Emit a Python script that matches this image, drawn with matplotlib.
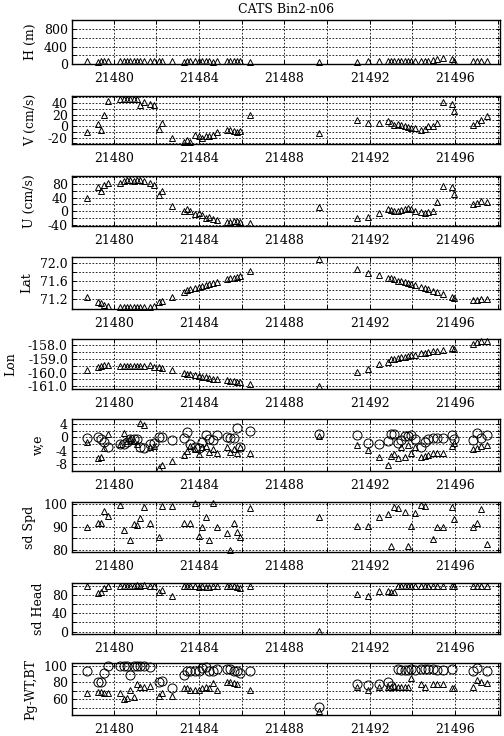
import numpy as np
import matplotlib
matplotlib.use('Agg')
import matplotlib.pyplot as plt
from matplotlib.ticker import MultipleLocator, FormatStrFormatter

plt.rcParams['font.family'] = 'DejaVu Serif'
plt.rcParams['font.size'] = 9

nan = np.nan

# sample times (days)
day = [21478.75, 21479.27, 21479.39, 21479.53, 21479.73, 21480.31, 21480.47, 21480.63,
       21480.78, 21480.94, 21481.09, 21481.25, 21481.41, 21481.72, 21481.88, 21482.11,
       21482.27, 21482.75, 21483.28, 21483.44, 21483.59, 21483.80, 21484.00, 21484.16,
       21484.31, 21484.47, 21484.66, 21484.84, 21485.31, 21485.47, 21485.63, 21485.78,
       21485.91, 21486.41, 21489.61, 21491.42, 21491.92, 21492.42, 21492.83, 21492.98,
       21493.14, 21493.33, 21493.48, 21493.64, 21493.80, 21493.95, 21494.11, 21494.42,
       21494.58, 21494.73, 21494.94, 21495.13, 21495.44, 21495.83, 21495.94, 21496.84,
       21497.03, 21497.19, 21497.47]

depth = [60, 50, 70, 80, 70, 70, 80, 70, 60, 70, 60, 70, 80, 80, 60, 70, 60, 70, 50, 60,
         60, 60, 70, 60, 70, 60, 50, 60, 60, 70, 60, 70, 60, 40, 40, 50, 70, 60, 60, 70,
         60, 60, 70, 60, 70, 80, 70, 60, 70, 80, 100, 120, 130, 110, 70, 60, 60, 70, 60]

v = [-11, 3, -6, 20, 44, 46, 47, 46, 47, 46, 46, 37, 42, 38, 36, -5, 5, -20, -28, -24,
     -28, -15, -18, -21, -18, -18, -15, -10, -6, -7, -9, -11, -9, 19, -12, 10, 6, 6, 9, 5,
     2, 3, 1, 0, -2, -4, -3, -6, -5, 0, 0, 6, 41, 38, 26, 2, 5, 10, 17]

u = [38, 70, 60, 77, 82, 82, 87, 90, 90, 87, 90, 92, 87, 82, 78, 48, 60, 16, 1, 6,
     2, -9, -6, -11, -20, -16, -23, -25, -32, -30, -28, -27, -30, -33, 12, -20, -18, -6, 6, 4,
     0, 2, 4, 6, 11, 6, 2, -2, -6, -2, 2, 28, 74, 72, 51, 21, 25, 30, 28]

lat = [71.25, 71.15, 71.12, 71.08, 71.05, 71.04, 71.04, 71.04, 71.04, 71.04, 71.04, 71.04,
       71.04, 71.04, 71.06, 71.14, 71.16, 71.26, 71.36, 71.40, 71.42, 71.44, 71.47, 71.49,
       71.51, 71.53, 71.55, 71.58, 71.64, 71.66, 71.68, 71.70, 71.72, 71.82, 72.08, 71.86,
       71.79, 71.73, 71.68, 71.66, 71.64, 71.61, 71.60, 71.58, 71.56, 71.54, 71.51, 71.47,
       71.45, 71.43, 71.39, 71.37, 71.32, 71.26, 71.24, 71.18, 71.19, 71.20, 71.22]

lon = [-159.8, -159.6, -159.5, -159.45, -159.45, -159.5, -159.5, -159.5, -159.5, -159.5,
       -159.5, -159.5, -159.5, -159.45, -159.6, -159.6, -159.7, -159.8, -160.0, -160.1,
       -160.1, -160.2, -160.25, -160.3, -160.35, -160.4, -160.45, -160.5, -160.55, -160.6,
       -160.6, -160.65, -160.7, -160.8, -161.0, -159.95, -159.75, -159.35, -159.2, -159.05,
       -159.0, -158.95, -158.9, -158.85, -158.8, -158.75, -158.7, -158.6, -158.55, -158.5,
       -158.45, -158.45, -158.4, -158.25, -158.3, -157.9, -157.8, -157.75, -157.7]

w = [-1.3, -6.3, -6.0, -3.3, 1.0, -2.0, 1.2, -1.0, -0.3, -1.0, -2.0, 4.2, 3.8, -3.0, -2.5,
     -9.3, -8.3, -7.0, -5.3, -4.0, -2.6, -3.5, -5.0, -3.0, -2.6, -4.3, -3.5, -4.8, -2.8, -4.3,
     -3.5, -4.6, -3.0, -4.6, 0.4, -2.3, -3.8, -5.8, -8.3, -5.6, -5.0, -6.3, -2.8, -6.0, -2.3,
     -4.6, -3.0, -5.8, -5.6, -5.3, -4.6, -4.6, -4.8, -2.6, -1.8, -3.6, -3.3, -2.6, -2.3]

e = [-0.3, 0.2, -0.6, -1.3, -2.8, -2.0, -2.0, -1.5, -0.6, -0.5, -0.5, -2.8, -3.3, -2.0, -1.8,
     0.2, 0.0, -0.8, -0.3, 1.7, -2.0, -2.8, -3.3, -1.3, 0.7, -0.6, -0.8, 0.7, 0.2, -0.3,
     -0.3, 2.7, -3.0, 2.0, 1.0, 0.7, -1.6, -2.0, -1.0, 1.0, 1.0, -1.6, -0.8, 0.4, 0.4,
     0.7, -0.5, -2.8, -1.3, -0.6, -0.3, -0.3, -0.3, 0.7, -0.6, -0.8, 1.2, -0.3, 0.7]

sd_spd = [89.7, 91.5, 91.5, 97.0, 94.7, 99.6, 88.5, nan, 84.4, 91.2, 90.7, 93.7, 98.5, 91.5, nan,
          85.6, 98.8, 99.1, 91.8, nan, 91.5, 100.3, 86.0, 89.7, 94.4, 84.1, 100.3, 90.0, 87.4, 80.0,
          91.8, 87.8, 85.6, 98.1, 94.1, 90.3, 90.3, 94.4, 95.6, 81.9, 98.5, 98.1, nan, 96.2, 81.9,
          90.3, 95.9, 99.6, 98.8, nan, 84.9, 90.0, 89.7, 98.5, 93.2, 90.0, 91.8, 97.6, 82.6]

sd_head = [100, 84, 86, 94, 100, 99, 100, 100, 98, 100, 101, 100, 101, 100, 98, 85, 90, 78, 98, 98,
           99, 98, 96, 100, 97, 97, 99, 98, 98, 99, 98, 96, 94, 100, 1, 81, 78, 88, 89, 86,
           86, 100, 100, 100, 100, 99, 100, 100, 99, 100, 99, 99, 98, 99, 99, 98, 99, 100, 100]

pg_wt = [68, 69, 69, 68, 67, 67, 60, 62, 71, 63, 78, 75, 75, 76, nan, 64, 68, 64, 73, 73,
         71, 71, 71, 73, 75, 73, 79, 71, 80, 80, 79, 78, nan, 71, 46, 75, 71, 75, 75, 75,
         76, 75, 75, 75, 75, 85, nan, 78, 75, nan, 78, 78, 78, 73, 73, 75, 83, 80, 79]

pg_bt = [93, 80, 80, 91, 100, 99, 100, 100, 89, 100, 100, 100, 100, 98, nan, 81, 82, 73, 89, 93,
         93, 93, 93, 97, 98, 94, 94, 96, 96, 96, 94, 93, 91, 93, 51, 78, 77, 78, 81, 76,
         nan, 96, 95, 95, 95, 96, 95, 96, 96, 96, 96, 95, 95, 96, nan, 94, 97, nan, 94]

# (label, label x, [(series, marker, size)], ylim, major, minor, fmt, (top px, bottom px))
panels = [
    ('H (m)', -0.082, [(depth, '^', 5)], (0, 1010), 400, 200, '%d', (20, 64)),
    ('V (cm/s)', -0.082, [(v, '^', 5)], (-31, 52), 20, 10, '%d', (96, 144)),
    ('U (cm/s)', -0.084, [(u, '^', 5)], (-43, 103), 40, 20, '%d', (176, 226)),
    ('Lat', -0.091, [(lat, '^', 5)], (70.99, 72.13), 0.4, 0.2, '%.1f', (257, 309)),
    ('Lon', -0.129, [(lon, '^', 5)], (-161.19, -157.57), 1.0, 0.5, '%.1f', (339, 389)),
    ('w,e', -0.063, [(w, '^', 5), (e, 'o', 6.5)], (-10.1, 5.5), 4, 2, '%d', (419, 471)),
    ('sd Spd', -0.084, [(sd_spd, '^', 5)], (79.1, 100.7), 10, 5, '%d', (502, 552)),
    ('sd Head', -0.063, [(sd_head, '^', 5)], (-5, 105.5), 40, 20, '%d', (583, 634)),
    ('Pg-WT,BT', -0.082, [(pg_wt, '^', 5), (pg_bt, 'o', 6.5)], (41.4, 103), 20, 10, '%d', (663, 715)),
]

W, H = 504, 736
fig = plt.figure(figsize=(W / 100, H / 100), dpi=100)
left, right = 72, 500

for i, (label, lx, series, ylim, major, minor, fmt, (top, bot)) in enumerate(panels):
    ax = fig.add_axes([left / W, 1 - bot / H, (right - left) / W, (bot - top) / H])
    for vals, mk, ms in series:
        ax.plot(day, vals, linestyle='none', marker=mk, markersize=ms,
                markerfacecolor='none', markeredgecolor='black', markeredgewidth=0.7,
                clip_on=False)
    ax.set_xlim(21478.05, 21498.1)
    ax.set_ylim(*ylim)
    ax.xaxis.set_major_locator(MultipleLocator(4))
    ax.xaxis.set_minor_locator(MultipleLocator(2))
    ax.xaxis.set_major_formatter(FormatStrFormatter('%d'))
    ax.yaxis.set_major_locator(MultipleLocator(major))
    ax.yaxis.set_minor_locator(MultipleLocator(minor))
    ax.yaxis.set_major_formatter(FormatStrFormatter(fmt))
    ax.grid(which='both', linestyle=(0, (2, 2)), linewidth=0.6, color='black')
    ax.tick_params(which='both', direction='in', top=True, right=True, length=3,
                   width=0.7, labelsize=9, pad=3)
    ax.tick_params(axis='x', pad=6)
    for s in ax.spines.values():
        s.set_linewidth(1.0)
    ax.set_ylabel(label, fontsize=9)
    ax.yaxis.set_label_coords(lx, 0.5)
    if i == 0:
        ax.set_title('CATS Bin2-n06', fontsize=9, pad=5)

fig.savefig('out.png', dpi=100)
